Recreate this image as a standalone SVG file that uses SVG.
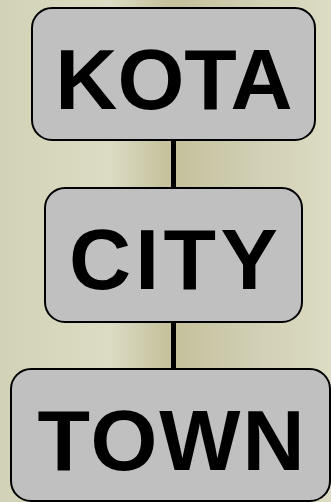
<svg xmlns="http://www.w3.org/2000/svg" width="331" height="502" viewBox="0 0 331 502">
<defs>
<linearGradient id="bg" x1="0" y1="0" x2="331" y2="0" gradientUnits="userSpaceOnUse">
<stop offset="0" stop-color="#d2d2b6"/>
<stop offset="0.33" stop-color="#dcdcc4"/>
<stop offset="0.5" stop-color="#c6c29e"/>
<stop offset="0.55" stop-color="#c6c29e"/>
<stop offset="0.75" stop-color="#d0ceb2"/>
<stop offset="1" stop-color="#dcdcc4"/>
</linearGradient>
<style>
.box{fill:#c0c0c0;stroke:#000;stroke-width:2}
.lbl{font-family:"Liberation Sans",Arial,sans-serif;font-weight:bold;font-size:86px;fill:#000;text-anchor:middle}
.conn{stroke:#000;stroke-width:5;fill:none}
</style>
</defs>
<rect width="331" height="502" fill="url(#bg)"/>
<g id="connectors">
<line class="conn" x1="173.5" y1="140" x2="173.5" y2="188"/>
<line class="conn" x1="173.5" y1="322" x2="173.5" y2="369"/>
</g>
<g id="kota">
<rect class="box" x="32" y="8" width="283" height="132" rx="20"/>
<text class="lbl" x="174" y="109">KOTA</text>
</g>
<g id="city">
<rect class="box" x="45" y="188" width="257" height="134" rx="20"/>
<text class="lbl" x="175.5" y="289" letter-spacing="4.3">CITY</text>
</g>
<g id="town">
<rect class="box" x="11" y="369" width="319" height="132" rx="20"/>
<text class="lbl" x="172" y="470" letter-spacing="2">TOWN</text>
</g>
</svg>
